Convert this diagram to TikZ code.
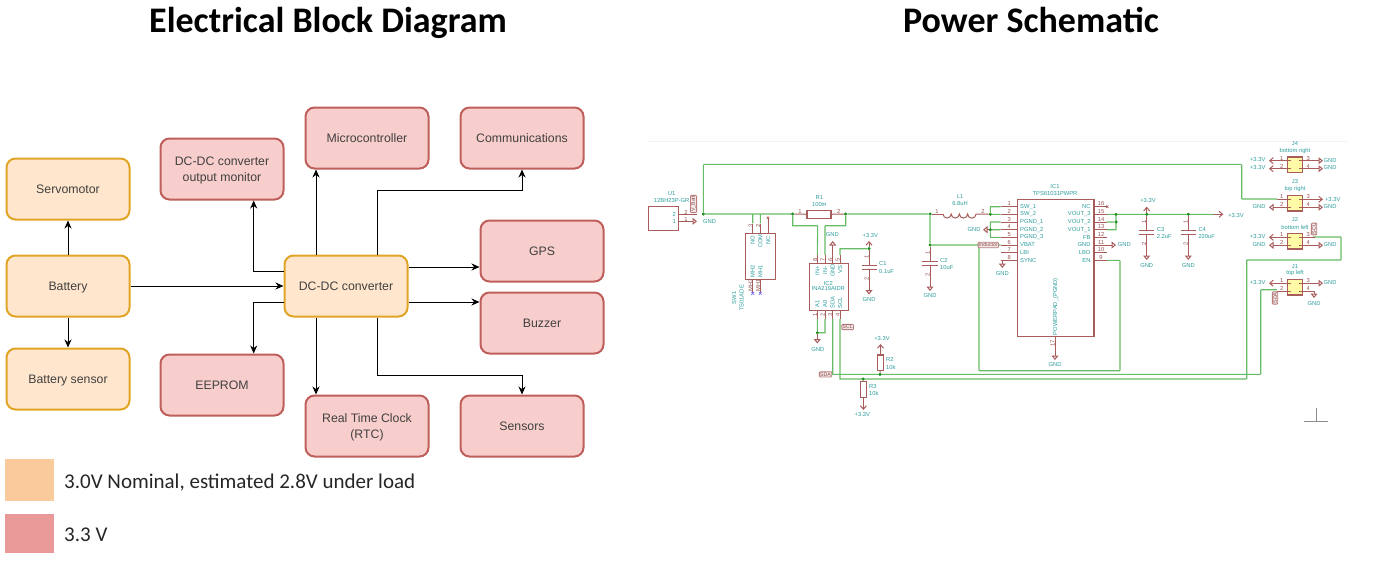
\documentclass[tikz,border=0pt]{standalone}
\usepackage{fontspec}
\setmainfont{Carlito}
\newfontfamily\blockfont{Liberation Sans}
\usetikzlibrary{arrows.meta, calc, positioning}
\definecolor{lowfill}{HTML}{FFE6CC}
\definecolor{lowline}{HTML}{E0A526}
\definecolor{highfill}{HTML}{F8CECC}
\definecolor{highline}{HTML}{BE5F5B}
\definecolor{lowkey}{HTML}{F9CB9C}
\definecolor{highkey}{HTML}{EA9999}
\definecolor{schred}{HTML}{A85C5C}
\definecolor{schteal}{HTML}{2E9C9C}
\definecolor{schgreen}{HTML}{66BB66}
\definecolor{schdot}{HTML}{1F8F1F}
\tikzset{
  block/.style={rounded corners=9pt, line width=2pt, minimum width=123pt, minimum height=61pt, inner sep=0pt, align=center, text depth=0pt, text=black!75, font=\blockfont\fontsize{12.3}{16}\selectfont},
  lowblock/.style={block, draw=lowline, fill=lowfill},
  highblock/.style={block, draw=highline, fill=highfill},
  flow/.style={line width=1pt, -{Stealth[length=8pt,width=7pt]}},
  titletext/.style={anchor=base, inner sep=0pt, font=\bfseries\fontsize{36}{40}\selectfont},
  keytext/.style={anchor=base west, inner sep=0pt, font=\fontsize{21}{24}\selectfont, text=black!85},
  keybox/.style={minimum width=49pt, inner sep=0pt},
  wire/.style={draw=schgreen, line width=1.1pt},
  pinline/.style={draw=schred, line width=1pt},
  gndpin/.style={pinline, -{Triangle[open,length=4.5pt,width=7pt]}},
  supplypin/.style={pinline, -{Straight Barb[length=3.5pt,width=6pt]}},
  symbox/.style={draw=schred, line width=1.1pt, inner sep=0pt},
  schtext/.style={text=schteal, inner sep=0pt, font=\blockfont\fontsize{5.8}{6}\selectfont},
  pinnum/.style={text=schred!90!black, inner sep=0pt, font=\blockfont\fontsize{5.8}{6}\selectfont},
  flagtext/.style={draw=schred!80, fill=schred!15, line width=0.8pt, text=schred!85!black, rounded corners=0.8pt, inner sep=0.8pt, font=\blockfont\fontsize{5.2}{5.5}\selectfont},
  dot/.style={circle, fill=schdot, inner sep=0pt, minimum size=3pt},
  pt/.style={inner sep=0pt, minimum size=0pt},
  nomark/.style={draw=schred, line width=0.7pt},
  bluemark/.style={draw=blue!55, line width=0.7pt}
}
\begin{document}
\begin{tikzpicture}[x=1pt, y=-1pt]
\useasboundingbox (0,0) rectangle (1393,562);

\node[titletext] (leftTitle) at (328,32) {Electrical Block Diagram};
\node[titletext] (rightTitle) at (1031,32) {Power Schematic};

\node[lowblock] (servo) at (68,189) {Servomotor};
\node[lowblock] (battery) at (68,286) {Battery};
\node[lowblock] (battSense) at (68,379) {Battery sensor};
\node[highblock] (monitor) at (222,169) {DC-DC converter\\output monitor};
\node[highblock] (micro) at (367,138) {Microcontroller};
\node[highblock] (comms) at (522,138) {Communications};
\node[highblock] (gps) at (542,251) {GPS};
\node[highblock] (buzzer) at (542,323) {Buzzer};
\node[lowblock] (conv) at (346,286) {DC-DC converter};
\node[highblock] (eeprom) at (222,385) {EEPROM};
\node[highblock] (rtc) at (367,426) {Real Time Clock\\(RTC)};
\node[highblock] (sensors) at (522,426) {Sensors};

\coordinate (monTurn) at (253.7,271);
\coordinate (eeTurn) at (253.7,302);
\coordinate (commsTurn) at (377,190);
\coordinate (sensTurn) at (377,375);

\draw[flow] (battery) -- (servo);
\draw[flow] (battery) -- (battSense);
\draw[flow] (battery) -- (conv);
\draw[flow] (conv.west |- monTurn) -- (monTurn) -- (monTurn |- monitor.south);
\draw[flow] (conv.west |- eeTurn) -- (eeTurn) -- (eeTurn |- eeprom.north);
\draw[flow] (conv.north -| 316,0) -- (micro.south -| 316,0);
\draw[flow] (conv.south -| 316,0) -- (rtc.north -| 316,0);
\draw[flow] (conv.north -| commsTurn) -- (commsTurn) -- (commsTurn -| comms) -- (comms.south);
\draw[flow] (conv.south -| sensTurn) -- (sensTurn) -- (sensTurn -| sensors) -- (sensors.north);
\draw[flow] (conv.east |- 0,267) -- (gps.west |- 0,267);
\draw[flow] (conv.east |- 0,302) -- (buzzer.west |- 0,302);

\node[keybox, fill=lowkey, minimum height=42pt] (lowKey) at (29.5,480) {};
\node[keybox, fill=highkey, minimum height=39pt] (highKey) at (29.5,533.5) {};
\node[keytext] (lowKeyText) at (64,488.5) {3.0V Nominal, estimated 2.8V under load};
\node[keytext] (highKeyText) at (64,541) {3.3 V};

\draw[black!5, line width=0.6pt] (648,141) -- (1347,141);
\node[pt] (originV) at (1316,408) {};
\node[pt] (originH) at (1316,421) {};
\draw[black!45, line width=0.6pt] (originV) -- (originH) (1304,421) -- (1328,421);

\node[dot] (jIn) at (703.3,214) {};
\node[dot] (jR1a) at (792.7,214) {};
\node[dot] (jR1b) at (845.7,214) {};
\node[dot] (jL1) at (930,214) {};
\node[dot] (jC2) at (930,245) {};
\node[dot] (jInd) at (979,245) {};
\node[dot] (jSw) at (990.3,214.3) {};
\node[dot] (jPg) at (990.3,229.7) {};
\node[dot] (jVo3) at (1116,214.3) {};
\node[dot] (jVo2) at (1116,222) {};
\node[dot] (jC3) at (1146.7,214.3) {};
\node[dot] (jC4) at (1188.3,214.3) {};
\node[dot] (jVs) at (869,248.7) {};
\node[dot] (jA) at (817.3,332.7) {};
\node[dot] (jR2) at (880,374.3) {};
\node[dot] (jR3) at (863,379) {};

\node[symbox, minimum width=30.4pt, minimum height=23.3pt] (u1) at (663.5,218.4) {};
\node[symbox, minimum width=30.4pt, minimum height=46pt] (sw1) at (760.5,256.3) {};
\node[symbox, minimum width=24pt, minimum height=7.6pt] (r1) at (819,214.5) {};
\node[symbox, minimum width=39pt, minimum height=46.7pt] (ic2) at (828.8,286.7) {};
\node[symbox, minimum width=76.7pt, minimum height=137.7pt] (ic1) at (1055.6,267.9) {};
\node[symbox, minimum width=6.4pt, minimum height=15.7pt] (r2) at (880.5,362.8) {};
\node[symbox, minimum width=6.6pt, minimum height=15.6pt] (r3) at (863.4,389.5) {};

\foreach \pinx/\pinname in {752.7/a,760.3/b,768/c}
  \node[pt] (sw\pinname) at (\pinx,223.5) {};
\foreach \pinx/\pinname in {817.3/a,825/b,832.7/c,840/d} {
  \node[pt] (ict\pinname) at (\pinx,255) {};
  \node[pt] (icb\pinname) at (\pinx,319) {};
  \draw[pinline] (ict\pinname) -- (\pinx,263.3) (icb\pinname) -- (\pinx,310);
}

\foreach \n/\pinname/\pinY in {1/SW\_1/206.7,2/SW\_2/214.3,3/PGND\_1/222,4/PGND\_2/229.7,5/PGND\_3/237.3,6/VBAT/245,7/LBI/252.7,8/SYNC/260.3} {
  \node[pt] (ll\n) at (1000.7,\pinY) {};
  \draw[pinline] (ll\n) -- (ll\n -| ic1.west);
  \node[pinnum] (lnum\n) at (1009.3,\pinY-2.8) {\n};
  \node[schtext, anchor=west] (lname\n) at (1020,\pinY) {\pinname};
}
\foreach \n/\pinname/\pinY in {16/NC/206.7,15/VOUT\_3/214.3,14/VOUT\_2/222,13/VOUT\_1/229.7,12/FB/237.3,11/GND/245,10/LBO/252.7,9/EN/260.3} {
  \node[pt] (rr\n) at (1106.7,\pinY) {};
  \draw[pinline] (rr\n) -- (rr\n -| ic1.east);
  \node[pinnum] (rnum\n) at (1101,\pinY-2.8) {\n};
  \node[schtext, anchor=east] (rname\n) at (1090.7,\pinY) {\pinname};
}

\node[pt] (upTurn) at (703.3,164.3) {};
\node[pt] (upEnd) at (1241.7,164.3) {};
\node[pt] (j3Turn) at (1241.7,199) {};
\node[pt] (j3pin) at (1277,199) {};
\node[pt] (j2pin) at (1313,237) {};
\node[pt] (j2Far) at (1341,237) {};
\node[pt] (j2Low) at (1341,260) {};
\node[pt] (sclUp) at (1246.7,260) {};
\node[pt] (sclEnd) at (1246.7,379) {};
\node[pt] (sdaEnd) at (1260.7,374.3) {};
\node[pt] (j1Turn) at (1260.7,289.7) {};
\node[pt] (j1pin) at (1277,289.7) {};
\node[pt] (vout) at (1214,214.3) {};
\node[pt] (enBase) at (1120,370.7) {};
\node[pt] (enTop) at (1120,260.3) {};
\node[pt] (indBase) at (979,370.7) {};
\node[pt] (r1Left) at (817.7,225.7) {};
\node[pt] (r1Right) at (825,225.7) {};

\draw[wire]
  (jIn) -- (upTurn) -- (upEnd) -- (j3Turn) -- (j3pin)
  (jIn) -- (jR1a)
  (jIn -| swa) -- (swa)
  (jIn -| swb) -- (swb)
  (jR1a) |- (r1Left) -- (icta)
  (jR1b) |- (r1Right) -- (ictb)
  (jR1b) -- (jL1)
  (jL1) -- (jC2) -- (ll6)
  (jInd) -- (indBase) -- (enBase) -- (enTop) -- (rr9)
  (jSw) |- (ll1)
  (jSw) -- (ll2)
  (jPg) |- (ll3)
  (jPg) -- (ll4)
  (jPg) |- (ll5)
  (rr15) -- (vout)
  (rr14) -- (jVo2)
  (rr13) -| (jVo3)
  (ictd) |- (jVs)
  (icba) -- (jA)
  (icbb) |- (jA)
  (icbc) -- (icbc |- jR2)
  (832.3,374.3) -- (sdaEnd) -- (j1Turn) -- (j1pin)
  (icbd) -- (icbd |- jR3) -- (sclEnd) -- (sclUp) -- (j2Low) -- (j2Far) -- (j2pin);

\draw[pinline] (u1.east |- jIn) -- (697,214);
\draw[gndpin] (u1.east |- 0,221.3) -- (697,221.3);
\draw[pinline] (swa) -- (swa |- sw1.north) (swb) -- (swb |- sw1.north) (swc) -- (swc |- sw1.north);
\draw[nomark] (766.8,216.6) -- (769.2,219) (769.2,216.6) -- (766.8,219);
\draw[pinline] (768,223.5) -- (768,217.8);
\draw[pinline] (752.7,279.3) -- (752.7,293) (760.3,279.3) -- (760.3,293);
\draw[bluemark] (751.2,291.8) -- (754.2,294.8) (754.2,291.8) -- (751.2,294.8);
\draw[bluemark] (758.8,291.8) -- (761.8,294.8) (761.8,291.8) -- (758.8,294.8);
\draw[pinline] (jR1a) -- (r1) (r1) -- (jR1b);
\draw[gndpin] (ictc) -- (832.7,241);
\draw[supplypin] (jVs) -- (869,241);
\draw[pinline] (jVs) -- (869,265.7) (861.7,265.7) -- (877.3,265.7) (861.7,269.3) -- (877.3,269.3);
\draw[gndpin] (869,269.3) -- (869,294.5);
\draw[pinline] (jC2) -- (930,261) (921.7,261) -- (937.7,261) (921.7,265.7) -- (937.7,265.7);
\draw[gndpin] (930,265.7) -- (930,291);
\draw[gndpin] (jA) -- (817.3,343.5);
\draw[supplypin] (r2) -- (880.5,344);
\draw[pinline] (r2) -- (jR2);
\draw[pinline] (jR3) -- (r3);
\draw[supplypin] (r3) -- (863.4,410);

\draw[pinline] (jL1) -- (943,214);
\draw[pinline] (943,214) arc[start angle=180, end angle=0, radius=4.1] arc[start angle=180, end angle=0, radius=4.1] arc[start angle=180, end angle=0, radius=4.1] arc[start angle=180, end angle=0, radius=4.2];
\draw[pinline] (976,214) -- (jSw);
\draw[gndpin] (jPg) -- (983,229.7);
\draw[gndpin] (1002.3,260.3) -- (1002.3,268);
\draw[gndpin] (ic1.south -| 1055,0) -- (1055,360);
\draw[gndpin] (rr11) -- (1116,245);
\draw[nomark] (1106,205.5) -- (1108.4,207.9) (1108.4,205.5) -- (1106,207.9);
\draw[supplypin] (vout) -- (1223.3,214.3);
\draw[supplypin] (jC3) -- (1146.7,206.7);
\draw[pinline] (jC3) -- (1146.7,230) (1139,230) -- (1154.3,230) (1139,234.3) -- (1154.3,234.3);
\draw[gndpin] (1146.7,234.3) -- (1146.7,260);
\draw[pinline] (jC4) -- (1188.3,230) (1180.7,230) -- (1196,230) (1180.7,234.3) -- (1196,234.3);
\draw[gndpin] (1188.3,234.3) -- (1188.3,260);

\foreach \conn/\connY in {j4/164.7,j3/203.3,j2/241.3,j1/287.2} {
  \node[symbox, fill=yellow!35!white, line width=1.3pt, minimum width=15pt, minimum height=15.6pt] (\conn) at (1295.2,\connY) {};
  \draw[pinline] (1291,\connY-4) -- (1277,\connY-4) (1291,\connY+4) -- (1277,\connY+4);
  \draw[pinline] (1299.4,\connY-4) -- (1315,\connY-4) (1299.4,\connY+4) -- (1315,\connY+4);
  \node[pinnum] (\conn pa) at (1281.7,\connY-6.5) {1};
  \node[pinnum] (\conn pb) at (1281.7,\connY+1.5) {2};
  \node[pinnum] (\conn pc) at (1308.3,\connY-6.5) {3};
  \node[pinnum] (\conn pd) at (1308.3,\connY+1.5) {4};
}
\draw[supplypin] (1277,160.7) -- (1269,160.7);
\draw[supplypin] (1277,168.7) -- (1269,168.7);
\draw[gndpin] (1315,160.7) -- (1323,160.7);
\draw[gndpin] (1315,168.7) -- (1323,168.7);
\draw[gndpin] (1277,207.3) -- (1269,207.3);
\draw[supplypin] (1315,199.3) -- (1323,199.3);
\draw[gndpin] (1315,207.3) -- (1323,207.3);
\draw[supplypin] (1277,237.3) -- (1269,237.3);
\draw[gndpin] (1277,245.3) -- (1269,245.3);
\draw[gndpin] (1315,245.3) -- (1323,245.3);
\draw[supplypin] (1277,283.2) -- (1269,283.2);
\draw[gndpin] (1315,283.2) -- (1323,283.2);
\draw[gndpin] (1314,291.2) -- (1314,298);

\foreach \spot in {jIn,jR1a,jR1b,jL1,jC2,jInd,jSw,jPg,jVo3,jVo2,jC3,jC4,jVs,jA,jR2,jR3}
  \fill[schdot] (\spot) circle (1.5pt);

\node[flagtext, rotate=90] (flagBatt) at (693.5,204) {V\_Batt};
\node[flagtext] (flagInd) at (988.3,245) {Inductor};
\node[flagtext] (flagSda) at (825.5,374.3) {SDA};
\node[flagtext] (flagScl) at (847.7,327) {SCL};
\node[flagtext, rotate=90] (flagSclJ) at (1314,229) {SCL};
\node[flagtext, rotate=90] (flagSdaJ) at (1275,298) {SDA};

\node[schtext] (u1Ref) at (671.7,193.7) {U1};
\node[schtext] (u1Val) at (671.7,200.7) {12BH23P-GR};
\node[schtext] (u1PinB) at (674.3,214) {2};
\node[schtext] (u1PinA) at (674.3,221.5) {1};
\node[pinnum] (u1NumB) at (686,212) {2};
\node[pinnum] (u1NumA) at (686,219.3) {1};
\node[schtext] (u1Gnd) at (709.5,221.3) {GND};
\node[schtext, rotate=90] (swRef) at (734,298) {SW1};
\node[schtext, rotate=90] (swVal) at (741.7,298) {TS01ADE};
\node[schtext, rotate=90] (swNo) at (752.7,240) {NO};
\node[schtext, rotate=90] (swCom) at (760.3,241) {COM};
\node[schtext, rotate=90] (swNc) at (768,240) {NC};
\node[schtext, rotate=90] (swMh2) at (752.7,271) {MH2};
\node[schtext, rotate=90] (swMh1) at (760.3,271) {MH1};
\node[pinnum, rotate=90] (swNumA) at (750.5,226) {3};
\node[pinnum, rotate=90] (swNumB) at (758,226) {2};
\node[pinnum, rotate=90] (swNumC) at (750.5,285.5) {MH2};
\node[pinnum, rotate=90] (swNumD) at (758,285.5) {MH1};

\node[schtext] (r1Ref) at (819.3,197.3) {R1};
\node[schtext] (r1Val) at (819.3,204.3) {100m};
\node[pinnum] (r1NumA) at (800,211.5) {1};
\node[pinnum] (r1NumB) at (838.7,211.5) {2};

\node[schtext] (ic2Ref) at (828.3,283.3) {IC2};
\node[schtext] (ic2Val) at (828.3,288.7) {INA219AIDR};
\node[schtext, rotate=90] (ic2Ip) at (817.3,270.5) {IN+};
\node[schtext, rotate=90] (ic2Im) at (825,270.5) {IN-};
\node[schtext, rotate=90] (ic2Gn) at (832.7,270.5) {GND};
\node[schtext, rotate=90] (ic2Vs) at (840,269.5) {VS};
\node[schtext, rotate=90] (ic2A1) at (817.3,304) {A1};
\node[schtext, rotate=90] (ic2A0) at (825,304) {A0};
\node[schtext, rotate=90] (ic2Sda) at (832.7,302.5) {SDA};
\node[schtext, rotate=90] (ic2Scl) at (840,302.5) {SCL};
\foreach \numx/\numa/\numb in {815/8/1,822.7/7/2,830.4/6/3,837.7/5/4} {
  \node[pinnum, rotate=90] (topN\numa) at (\numx,259.5) {\numa};
  \node[pinnum, rotate=90] (botN\numb) at (\numx,314.5) {\numb};
}
\node[schtext] (ic2Gnd) at (832.3,235) {GND};
\node[schtext] (vsSupply) at (870.3,235.7) {+3.3V};
\node[schtext, anchor=west] (c1Ref) at (879,264) {C1};
\node[schtext, anchor=west] (c1Val) at (879,271.3) {0.1uF};
\node[pinnum, rotate=90] (c1NumA) at (866.5,257) {1};
\node[pinnum, rotate=90] (c1NumB) at (866.5,279) {2};
\node[schtext] (c1Gnd) at (869,300) {GND};
\node[schtext] (ic2Low) at (817.8,349.3) {GND};

\node[schtext] (l1Ref) at (960,196.7) {L1};
\node[schtext] (l1Val) at (960,204) {6.8uH};
\node[pinnum] (l1NumA) at (937,211.5) {1};
\node[pinnum] (l1NumB) at (983,211.5) {2};
\node[schtext, anchor=west] (c2Ref) at (940,260.7) {C2};
\node[schtext, anchor=west] (c2Val) at (940,267.3) {10uF};
\node[pinnum, rotate=90] (c2NumA) at (927.5,252.5) {1};
\node[pinnum, rotate=90] (c2NumB) at (927.5,275) {2};
\node[schtext] (c2Gnd) at (930,296) {GND};

\node[schtext] (ic1Ref) at (1055,186.7) {IC1};
\node[schtext] (ic1Val) at (1055,193.3) {TPS61031PWPR};
\node[schtext, rotate=90] (ic1Pad) at (1055.7,306.7) {POWERPAD\_(PGND)};
\node[pinnum, rotate=90] (ic1Num) at (1052.5,343) {17};
\node[schtext] (ic1Gnd) at (1055,364.3) {GND};
\node[schtext] (pgGnd) at (974,229.7) {GND};
\node[schtext] (syncGnd) at (1002.3,273.3) {GND};
\node[schtext] (outGnd) at (1124.3,244.5) {GND};

\node[schtext] (c3Supply) at (1148,201) {+3.3V};
\node[schtext, anchor=west] (c3Ref) at (1156.7,229.3) {C3};
\node[schtext, anchor=west] (c3Val) at (1156.7,236.7) {2.2uF};
\node[pinnum, rotate=90] (c3NumA) at (1144,222) {1};
\node[pinnum, rotate=90] (c3NumB) at (1144,244) {2};
\node[schtext] (c3Gnd) at (1146.7,265.7) {GND};
\node[schtext, anchor=west] (c4Ref) at (1198.3,229.3) {C4};
\node[schtext, anchor=west] (c4Val) at (1198.3,236.7) {220uF};
\node[pinnum, rotate=90] (c4NumA) at (1185.6,222) {1};
\node[pinnum, rotate=90] (c4NumB) at (1185.6,244) {2};
\node[schtext] (c4Gnd) at (1188.3,265.7) {GND};
\node[schtext] (voutSupply) at (1236,215.7) {+3.3V};

\node[schtext] (r2Supply) at (882,338.3) {+3.3V};
\node[schtext, anchor=west] (r2Ref) at (886,359.3) {R2};
\node[schtext, anchor=west] (r2Val) at (886,367) {10k};
\node[schtext, anchor=west] (r3Ref) at (869,386) {R3};
\node[schtext, anchor=west] (r3Val) at (869,393.3) {10k};
\node[schtext] (r3Supply) at (862.3,414.3) {+3.3V};

\node[schtext] (j4Ref) at (1295,144) {J4};
\node[schtext] (j4Val) at (1295,151) {bottom right};
\node[schtext] (j3Ref) at (1295,182) {J3};
\node[schtext] (j3Val) at (1295,189) {top right};
\node[schtext] (j2Ref) at (1295,220) {J2};
\node[schtext] (j2Val) at (1295,227) {bottom left};
\node[schtext] (j1Ref) at (1295,266.3) {J1};
\node[schtext] (j1Val) at (1295,273) {top left};
\node[schtext] (j4La) at (1257.7,160) {+3.3V};
\node[schtext] (j4Lb) at (1257.7,167.5) {+3.3V};
\node[schtext] (j4Ra) at (1330,160.5) {GND};
\node[schtext] (j4Rb) at (1330,168) {GND};
\node[schtext] (j3Lb) at (1259,207) {GND};
\node[schtext] (j3Ra) at (1332.7,200) {+3.3V};
\node[schtext] (j3Rb) at (1330,206.5) {GND};
\node[schtext] (j2La) at (1257.7,236.5) {+3.3V};
\node[schtext] (j2Lb) at (1259,245) {GND};
\node[schtext] (j2Rb) at (1330,245) {GND};
\node[schtext] (j1La) at (1257.7,282.5) {+3.3V};
\node[schtext] (j1Ra) at (1330,282.5) {GND};
\node[schtext] (j1Rb) at (1314,303.7) {GND};
\end{tikzpicture}
\end{document}
